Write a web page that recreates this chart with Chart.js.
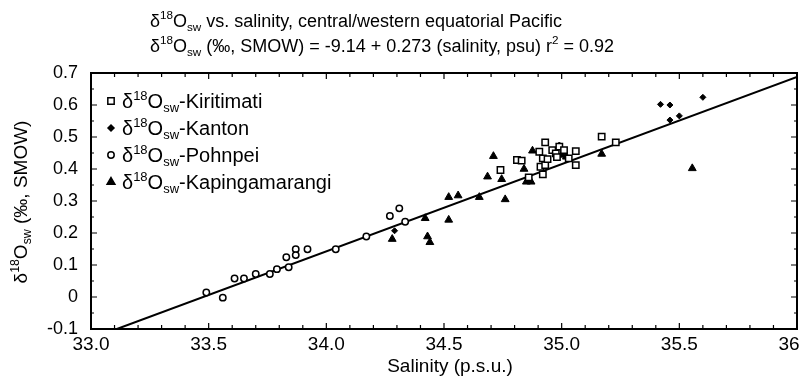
<!DOCTYPE html>
<html>
<head>
<meta charset="utf-8">
<script src="https://cdn.jsdelivr.net/npm/chart.js@4.4.1/dist/chart.umd.min.js"></script>
<style>
  html, body { margin: 0; padding: 0; background: #fff; overflow: hidden; }
  #wrap { width: 799px; height: 384px; overflow: hidden; }
</style>
</head>
<body>
<div id="wrap"><canvas id="chart" width="830" height="384"></canvas></div>
<script>
// values
const kiritimatiSal = [34.74, 34.81, 34.83, 34.86, 34.93, 34.905, 34.92, 34.91, 34.92, 34.93, 34.94, 34.96, 34.975, 34.99, 35.01, 34.98, 35.03, 35.06, 35.06, 35.17, 35.23];
const kiritimatiD18O = [0.397, 0.428, 0.426, 0.374, 0.483, 0.454, 0.433, 0.407, 0.383, 0.412, 0.431, 0.459, 0.449, 0.47, 0.459, 0.437, 0.433, 0.456, 0.412, 0.501, 0.483];

const kantonSal = [34.29, 34.99, 35.01, 35.42, 35.46, 35.60, 35.46, 35.50];
const kantonD18O = [0.207, 0.475, 0.452, 0.602, 0.600, 0.624, 0.553, 0.566];

const pohnpeiSal = [33.49, 33.56, 33.61, 33.65, 33.70, 33.76, 33.79, 33.83, 33.84, 33.87, 33.87, 33.92, 34.04, 34.17, 34.27, 34.31, 34.335];
const pohnpeiD18O = [0.014, -0.002, 0.058, 0.058, 0.072, 0.072, 0.087, 0.124, 0.093, 0.149, 0.131, 0.149, 0.149, 0.189, 0.253, 0.277, 0.235];

const kapingaSal = [34.28, 34.42, 34.52, 34.43, 34.44, 34.52, 34.56, 34.65, 34.76, 34.685, 34.71, 34.745, 34.84, 34.85, 34.87, 34.876, 35.0, 35.02, 35.17, 35.555];
const kapingaD18O = [0.181, 0.246, 0.241, 0.189, 0.171, 0.312, 0.317, 0.312, 0.305, 0.376, 0.44, 0.368, 0.40, 0.36, 0.36, 0.457, 0.444, 0.438, 0.447, 0.402];

// regression line end points
const fitSal = [33.11, 36.0];
const fitD18O = [-0.1, 0.688];

const xTicks = [33.0, 33.5, 34.0, 34.5, 35.0, 35.5, 36.0];
const yTicks = [-0.1, 0, 0.1, 0.2, 0.3, 0.4, 0.5, 0.6, 0.7];

const FONT = '"Liberation Sans", Arial, Helvetica, sans-serif';

function pts(xs, ys) {
  return xs.map((x, i) => ({ x: x, y: ys[i] }));
}

// draws a list of runs, some of them raised (sup) or lowered (sub)
function richWidth(ctx, runs, size) {
  let w = 0;
  runs.forEach(r => {
    const s = (r.sup || r.sub) ? size * 0.65 : size;
    ctx.font = s + 'px ' + FONT;
    w += ctx.measureText(r.t).width;
  });
  return w;
}
function drawRich(ctx, runs, x, y, size, align) {
  let cx = x;
  if (align === 'center') cx = x - richWidth(ctx, runs, size) / 2;
  ctx.textBaseline = 'alphabetic';
  ctx.textAlign = 'left';
  runs.forEach(r => {
    let s = size, dy = 0;
    if (r.sup) { s = size * 0.65; dy = -size * 0.42; }
    if (r.sub) { s = size * 0.65; dy = size * 0.22; }
    ctx.font = s + 'px ' + FONT;
    ctx.fillText(r.t, cx, y + dy);
    cx += ctx.measureText(r.t).width;
  });
}
const d18 = [{ t: 'δ' }, { t: '18', sup: true }, { t: 'O' }, { t: 'sw', sub: true }];

const legendItems = [
  { text: '-Kiritimati', pointStyle: 'rect', radius: 4.5, fill: '#fff' },
  { text: '-Kanton', pointStyle: 'rectRot', radius: 3, fill: '#000' },
  { text: '-Pohnpei', pointStyle: 'circle', radius: 3.2, fill: '#fff' },
  { text: '-Kapingamarangi', pointStyle: 'triangle', radius: 4.5, fill: '#000' }
];

const textPlugin = {
  id: 'texts',
  afterDraw(chart) {
    const ctx = chart.ctx;
    const a = chart.chartArea;
    const { x, y } = chart.scales;
    ctx.save();
    ctx.fillStyle = '#000';
    ctx.strokeStyle = '#000';

    // frame
    ctx.lineWidth = 2;
    ctx.strokeRect(a.left, a.top, a.right - a.left, a.bottom - a.top);

    // inward ticks
    ctx.lineWidth = 1.2;
    ctx.beginPath();
    for (let v = 330; v <= 360; v++) {
      const px = x.getPixelForValue(v / 10);
      const len = v % 5 === 0 ? 6 : 4;
      ctx.moveTo(px, a.bottom); ctx.lineTo(px, a.bottom - len);
      ctx.moveTo(px, a.top); ctx.lineTo(px, a.top + len);
    }
    for (let v = -10; v <= 70; v += 5) {
      const py = y.getPixelForValue(v / 100);
      const len = v % 10 === 0 ? 6 : 3;
      ctx.moveTo(a.left, py); ctx.lineTo(a.left + len, py);
      ctx.moveTo(a.right, py); ctx.lineTo(a.right - len, py);
    }
    ctx.stroke();

    // title
    drawRich(ctx, d18.concat([{ t: ' vs. salinity, central/western equatorial Pacific' }]), 150, 27, 18);
    drawRich(ctx, d18.concat([
      { t: ' (‰, SMOW) = -9.14 + 0.273 (salinity, psu) r' }, { t: '2', sup: true }, { t: ' = 0.92' }
    ]), 150, 52, 18);

    // legend
    const drawPoint = Chart.helpers && Chart.helpers.drawPoint;
    legendItems.forEach((it, i) => {
      const cy = 101 + i * 27;
      if (drawPoint) {
        ctx.fillStyle = it.fill;
        ctx.strokeStyle = '#000';
        ctx.lineWidth = 1.5;
        drawPoint(ctx, { pointStyle: it.pointStyle, radius: it.radius, rotation: 0, borderWidth: 1.5 }, 111, cy);
      }
      ctx.fillStyle = '#000';
      drawRich(ctx, d18.concat([{ t: it.text }]), 122, cy + 7, 20);
    });

    // axis titles
    drawRich(ctx, [{ t: 'Salinity (p.s.u.)' }], 450, 372, 19, 'center');
    ctx.translate(27, 202);
    ctx.rotate(-Math.PI / 2);
    drawRich(ctx, d18.concat([{ t: ' (‰, SMOW)' }]), 0, 0, 19, 'center');
    ctx.restore();
  }
};

new Chart(document.getElementById('chart'), {
  type: 'scatter',
  data: {
    datasets: [
      {
        label: 'Kiritimati', data: pts(kiritimatiSal, kiritimatiD18O),
        pointStyle: 'rect', pointRadius: 4.5, borderWidth: 1.5,
        borderColor: '#000', backgroundColor: '#fff'
      },
      {
        label: 'Kanton', data: pts(kantonSal, kantonD18O),
        pointStyle: 'rectRot', pointRadius: 3, borderWidth: 1,
        borderColor: '#000', backgroundColor: '#000'
      },
      {
        label: 'Pohnpei', data: pts(pohnpeiSal, pohnpeiD18O),
        pointStyle: 'circle', pointRadius: 3.2, borderWidth: 1.5,
        borderColor: '#000', backgroundColor: '#fff'
      },
      {
        label: 'Kapingamarangi', data: pts(kapingaSal, kapingaD18O),
        pointStyle: 'triangle', pointRadius: 4.5, borderWidth: 1,
        borderColor: '#000', backgroundColor: '#000'
      },
      {
        type: 'line', label: 'fit', data: pts(fitSal, fitD18O),
        borderColor: '#000', borderWidth: 2, pointRadius: 0, fill: false
      }
    ]
  },
  options: {
    responsive: false,
    animation: false,
    events: [],
    layout: { padding: { left: 0, right: 33, top: 73, bottom: 0 } },
    plugins: { legend: { display: false }, tooltip: { enabled: false }, title: { display: false } },
    scales: {
      x: {
        type: 'linear', min: 33, max: 36,
        afterBuildTicks: s => { s.ticks = xTicks.map(v => ({ value: v })); },
        afterFit: s => { s.height = 55; },
        grid: { display: false, drawTicks: false },
        border: { display: false },
        ticks: {
          color: '#000', padding: 4, maxRotation: 0, autoSkip: false,
          font: { family: FONT, size: 19 },
          callback: v => v.toFixed(1)
        }
      },
      y: {
        type: 'linear', min: -0.1, max: 0.7,
        afterBuildTicks: s => { s.ticks = yTicks.map(v => ({ value: v })); },
        afterFit: s => { s.width = 91; },
        grid: { display: false, drawTicks: false },
        border: { display: false },
        ticks: {
          color: '#000', padding: 13, autoSkip: false,
          font: { family: FONT, size: 18 },
          callback: v => (Math.abs(v) < 1e-9 ? '0' : String(Math.round(v * 10) / 10))
        }
      }
    }
  },
  plugins: [textPlugin]
});
</script>
</body>
</html>
